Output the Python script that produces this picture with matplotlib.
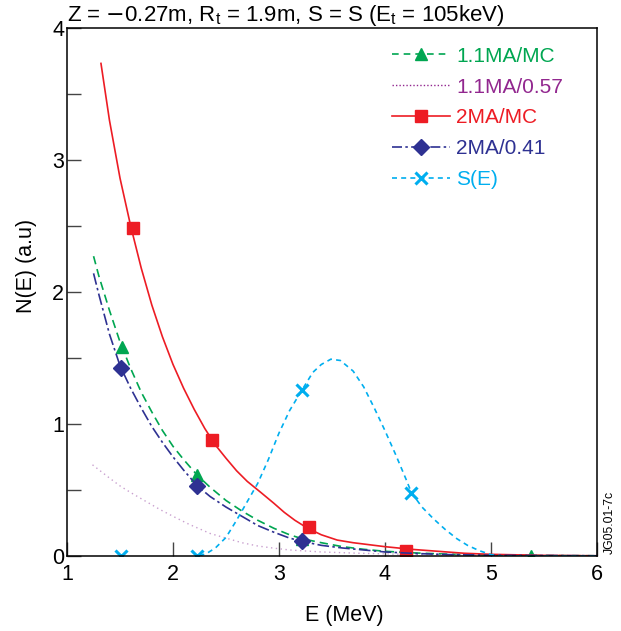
#!/usr/bin/env python3
"""N(E) spectra at Z=-0.27m, Rt=1.9m with the source S(E) overlay."""
import matplotlib
matplotlib.use('Agg')
import matplotlib.pyplot as plt
from matplotlib.ticker import MultipleLocator

plt.rcParams['font.family'] = ['Liberation Sans', 'DejaVu Sans']

# --- curves (E in MeV, N in a.u.) ---
E_11mc = [1.25, 1.30, 1.40, 1.50, 1.60, 1.70, 1.80, 1.90, 2.00, 2.10,
          2.23, 2.35, 2.50, 2.65, 2.80, 2.95, 3.10, 3.22, 3.40, 3.60,
          3.80, 4.00, 4.30, 4.60, 5.00, 5.40, 6.00]
N_11mc = [2.27, 2.12, 1.86, 1.62, 1.42, 1.24, 1.09, 0.95, 0.83, 0.73,
          0.61, 0.52, 0.42, 0.34, 0.27, 0.21, 0.16, 0.13, 0.10, 0.07,
          0.05, 0.035, 0.022, 0.013, 0.006, 0.003, 0.001]
Em_11mc = [1.52, 2.23, 3.22, 5.38]
Nm_11mc = [1.58, 0.61, 0.13, 0.003]

E_11057 = [1.24, 1.40, 1.50, 1.60, 1.75, 1.88, 2.00, 2.15, 2.35, 2.50,
           2.65, 2.80, 2.94, 3.10, 3.40, 3.76, 4.20, 4.60, 5.00, 6.00]
N_11057 = [0.69, 0.59, 0.53, 0.48, 0.41, 0.35, 0.30, 0.24, 0.17, 0.135,
           0.10, 0.075, 0.06, 0.045, 0.03, 0.02, 0.012, 0.007, 0.004, 0.001]

E_2mc = [1.32, 1.40, 1.50, 1.60, 1.70, 1.80, 1.90, 2.00, 2.10, 2.20,
         2.30, 2.40, 2.50, 2.60, 2.70, 2.83, 2.95, 3.05, 3.15, 3.27,
         3.40, 3.55, 3.70, 3.85, 4.00, 4.25, 4.50, 4.75, 5.00, 5.50, 6.00]
N_2mc = [3.73, 3.30, 2.86, 2.50, 2.18, 1.90, 1.66, 1.45, 1.27, 1.11,
         0.965, 0.84, 0.74, 0.645, 0.565, 0.48, 0.40, 0.33, 0.27, 0.21,
         0.16, 0.12, 0.10, 0.085, 0.07, 0.05, 0.035, 0.02, 0.012, 0.004, 0.001]
Em_2mc = [1.62, 2.37, 3.28, 4.20]
Nm_2mc = [2.48, 0.88, 0.22, 0.035]

E_2041 = [1.25, 1.30, 1.40, 1.50, 1.60, 1.70, 1.80, 1.90, 2.00, 2.10,
          2.23, 2.35, 2.50, 2.65, 2.80, 2.95, 3.10, 3.22, 3.40, 3.60,
          3.80, 4.00, 4.30, 4.60, 5.00, 6.00]
N_2041 = [2.14, 1.98, 1.68, 1.44, 1.27, 1.12, 0.98, 0.86, 0.75, 0.65,
          0.53, 0.45, 0.37, 0.30, 0.23, 0.18, 0.135, 0.11, 0.08, 0.06,
          0.045, 0.03, 0.018, 0.01, 0.005, 0.001]
Em_2041 = [1.51, 2.23, 3.22]
Nm_2041 = [1.42, 0.53, 0.11]

E_src = [2.25, 2.32, 2.40, 2.50, 2.60, 2.70, 2.80, 2.90, 3.00, 3.10,
         3.22, 3.32, 3.40, 3.49, 3.58, 3.70, 3.80, 3.90, 4.00, 4.10,
         4.20, 4.25, 4.35, 4.46, 4.57, 4.68, 4.78, 4.89, 5.00, 5.10, 6.00]
N_src = [0.0, 0.02, 0.06, 0.14, 0.27, 0.41, 0.55, 0.73, 0.93, 1.10,
         1.26, 1.39, 1.45, 1.49, 1.48, 1.40, 1.28, 1.12, 0.95, 0.77,
         0.58, 0.48, 0.37, 0.28, 0.20, 0.13, 0.08, 0.04, 0.01, 0.0, 0.0]
Em_src = [1.51, 2.23, 3.22, 4.25]
Nm_src = [0.0, 0.0, 1.26, 0.48]

GREEN = '#00a651'
PURPLE = '#92278f'
RED = '#ed1c24'
BLUE = '#2e3192'
CYAN = '#00aeef'

fig = plt.figure(figsize=(6.21, 6.31), dpi=100)
ax = fig.add_axes([0.108, 0.119, 0.853, 0.837])

ax.plot(E_11mc, N_11mc, color=GREEN, lw=1.2, ls=(0, (5, 3)))
ax.plot(Em_11mc, Nm_11mc, ls='none', marker='^', ms=9, color=GREEN)
ax.plot(E_11057, N_11057, color='#c9a0cf', lw=1.0, ls=(0, (1, 2.5)))
ax.plot(E_2mc, N_2mc, color=RED, lw=1.2, ls='-')
ax.plot(Em_2mc, Nm_2mc, ls='none', marker='s', ms=8, color=RED)
ax.plot(E_2041, N_2041, color=BLUE, lw=1.2, ls=(0, (7, 2, 1.5, 2)))
ax.plot(Em_2041, Nm_2041, ls='none', marker='D', ms=8, color=BLUE)
ax.plot(E_src, N_src, color=CYAN, lw=1.2, ls=(0, (3, 2.5)))
ax.plot(Em_src, Nm_src, ls='none', marker='x', ms=9, mew=2.2, color=CYAN)

# legend handles: one marker centred on each line
h = [
    plt.Line2D([], [], color=GREEN, lw=1.2, ls=(0, (4, 3)), marker='^', ms=9),
    plt.Line2D([], [], color=PURPLE, lw=1.0, ls=(0, (1, 1.5))),
    plt.Line2D([], [], color=RED, lw=1.2, ls='-', marker='s', ms=8),
    plt.Line2D([], [], color=BLUE, lw=1.2, ls=(0, (6, 2, 1.5, 2)), marker='D', ms=8),
    plt.Line2D([], [], color=CYAN, lw=1.2, ls=(0, (3, 2.5)), marker='x', ms=9, mew=2.2),
]
labels = ['1.1MA/MC', '1.1MA/0.57', '2MA/MC', '2MA/0.41', 'S(E)']
leg = ax.legend(h, labels, loc='upper left', frameon=False, fontsize=15,
                numpoints=1, handlelength=2.8, handletextpad=0.3,
                labelspacing=0.57, borderaxespad=0.0,
                bbox_to_anchor=(0.597, 0.98))
for txt, c in zip(leg.get_texts(), [GREEN, PURPLE, RED, BLUE, CYAN]):
    txt.set_color(c)

ax.set_xlim(1, 6)
ax.set_ylim(0, 4)
ax.xaxis.set_major_locator(MultipleLocator(1))
ax.yaxis.set_major_locator(MultipleLocator(1))
ax.yaxis.set_minor_locator(MultipleLocator(0.5))
ax.tick_params(which='both', direction='in', length=10, width=1,
               color='#444444', labelsize=15.5, top=False, right=False)
ax.tick_params(axis='x', pad=6)
ax.tick_params(axis='y', pad=2)
for s in ax.spines.values():
    s.set_linewidth(1.1)

ax.set_xlabel('E (MeV)', fontsize=15.5, labelpad=14, x=0.523)
ax.set_ylabel('N(E) (a.u)', fontsize=15.5, labelpad=11, y=0.549)
ax.set_title(r'Z = $-$0.27m, R$_\mathregular{t}$ = 1.9m, S = S (E$_\mathregular{t}$ = 105keV)',
             fontsize=16, loc='left', pad=3)

fig.text(0.982, 0.122, 'JG05.01-7c', rotation=90, fontsize=8.8,
         ha='center', va='bottom')

fig.savefig('out.png', dpi=100)
